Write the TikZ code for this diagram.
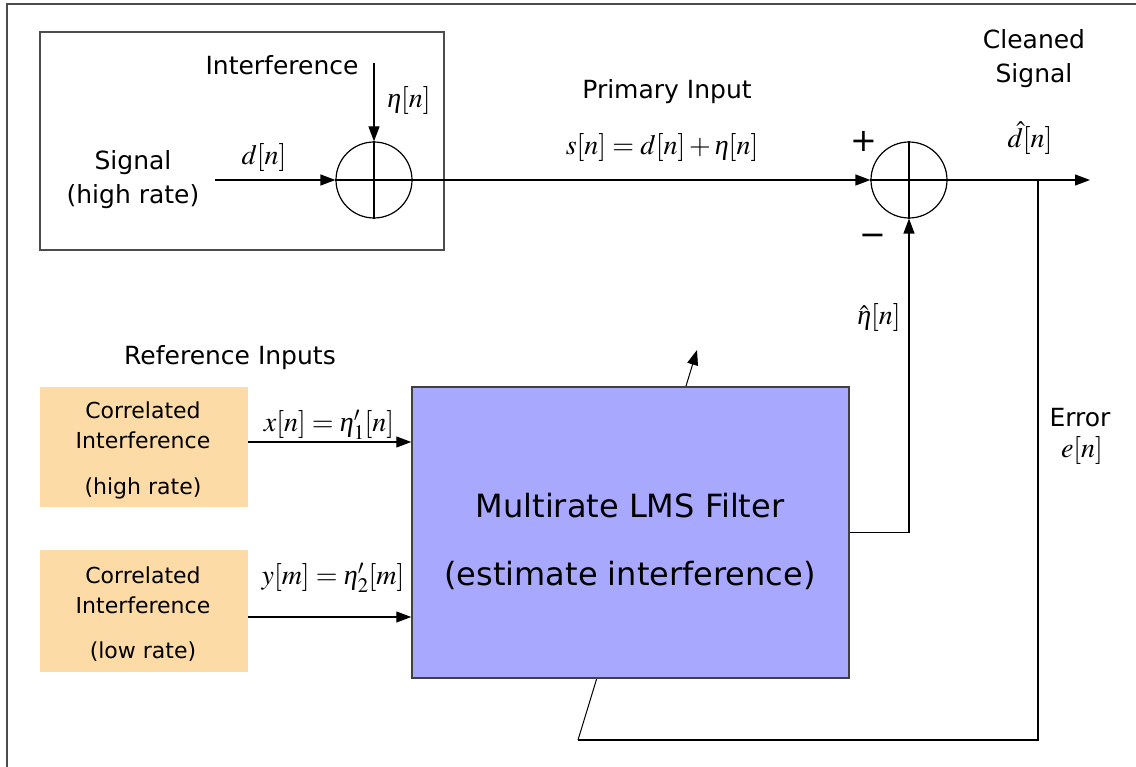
\documentclass[tikz,border=0pt]{standalone}
\usepackage{mathptmx}
\usepackage[no-math]{fontspec}
\setmainfont{DejaVu Sans}
\newfontfamily\tms{Liberation Serif}
\newcommand{\eti}{\mbox{\tms\itshape η}}
\usetikzlibrary{arrows.meta}
\definecolor{lmsfill}{HTML}{A8A8FF}
\definecolor{peach}{HTML}{FDDBA6}
\begin{document}
\begin{tikzpicture}[x=1pt,y=-1pt,
  conn/.style={line width=1.2pt, draw=black},
  arr/.style={conn, -{Triangle[length=15pt,width=11pt]}},
  lbl/.style={inner sep=0pt, font=\fontsize{25}{34}\selectfont, align=center},
  small/.style={inner sep=0pt, font=\fontsize{22}{30}\selectfont, align=center},
  mlbl/.style={inner sep=0pt, font=\fontsize{28}{32}\selectfont},
  sumnode/.style={circle, draw, line width=1.2pt, minimum size=76pt, inner sep=0pt},
  peachbox/.style={fill=peach, minimum width=208pt, inner sep=0pt}]
\useasboundingbox (0,0) rectangle (1136,767);
\fill[white] (0,0) rectangle (1136,767);
\draw[line width=2pt, draw=black!70] (7,767) -- (7,4) -- (1136,4);

% signal block
\node[draw=black!70, line width=1.2pt, minimum width=404pt, minimum height=218pt, inner sep=0pt] (sigbox) at (242,141) {};
\node[sumnode] (s1) at (374,180) {};
\draw[conn] (s1.north) -- (s1.south);
\draw[conn] (s1.west) -- (s1.east);
\coordinate (sigin) at (215,180);
\coordinate (intf) at (374,63);
\draw[arr] (sigin) -- (s1.west);
\draw[arr] (intf) -- (s1.north);
\node[lbl] (sigtxt) at (133,180) {Signal\\(high rate)};
\node[lbl] (intftxt) at (282,65) {Interference};
\node[mlbl] (etan) at (409,101) {$\eti[n]$};
\node[mlbl] (dn) at (264,158) {$d[n]$};

% main summer
\node[sumnode] (s2) at (909,180) {};
\draw[conn] (s2.north) -- (s2.south);
\draw[conn] (s2.west) -- (s2.east);
\draw[arr] (s1.east) -- (s2.west);
\coordinate (out) at (1090,180);
\draw[arr] (s2.east) -- (out);
\node[inner sep=0pt, font=\fontsize{32}{32}\selectfont] (plus) at (864,141) {+};
\node[inner sep=0pt, font=\fontsize{32}{32}\selectfont] (minus) at (873,240) {\char"2212};
\node[lbl] (primtxt) at (667,92) {Primary Input};
\node[mlbl] (seq) at (662,148) {$s[n]=d[n]+\eti[n]$};
\node[lbl] (cleantxt) at (1034,59) {Cleaned\\Signal};
\node[mlbl] (dhat) at (1030,138) {$\hat{d}[n]$};

% error feedback (adaptation arrow through the filter)
\coordinate (tap) at (1038,180);
\coordinate (eb) at (1038,740);
\coordinate (el) at (578,740);
\coordinate (adapt) at (697,350);
\draw[conn] (tap) -- (eb) -- (el);
\draw[conn, line width=1pt, -{Triangle[length=15pt,width=11pt]}] (el) -- (adapt);
\node[lbl] (errtxt) at (1080,418) {Error};
\node[mlbl] (en) at (1082,450) {$e[n]$};

% LMS filter
\node[draw=black!75, fill=lmsfill, line width=1.5pt, minimum width=437pt, minimum height=291pt, inner sep=0pt] (lms) at (630.5,532.5) {};
\node[inner sep=0pt, font=\fontsize{32}{68}\selectfont, align=center] (lmstxt) at (630,541) {Multirate LMS Filter\\(estimate interference)};
\draw[arr] (lms.east) -| (s2.south);
\node[mlbl] (etahat) at (879,318) {$\hat{\eti}[n]$};

% reference inputs
\node[lbl] (reftxt) at (230,358) {Reference Inputs};
\node[peachbox, minimum height=120pt] (ob1) at (144,447) {};
\node[peachbox, minimum height=122pt] (ob2) at (144,611) {};
\node[small] (ob1txt) at (143,425) {Correlated\\Interference};
\node[small] (ob1rate) at (143,488) {(high rate)};
\node[small] (ob2txt) at (143,590) {Correlated\\Interference};
\node[small] (ob2rate) at (143,652) {(low rate)};
\draw[arr] ([yshift=5pt]ob1.east) -- ([yshift=5pt]ob1.east -| lms.west);
\draw[arr] ([yshift=-6pt]ob2.east) -- ([yshift=-6pt]ob2.east -| lms.west);
\node[mlbl] (xeq) at (329,425) {$x[n]=\eti_1'[n]$};
\node[mlbl] (yeq) at (333,578) {$y[m]=\eti_2'[m]$};
\end{tikzpicture}
\end{document}
